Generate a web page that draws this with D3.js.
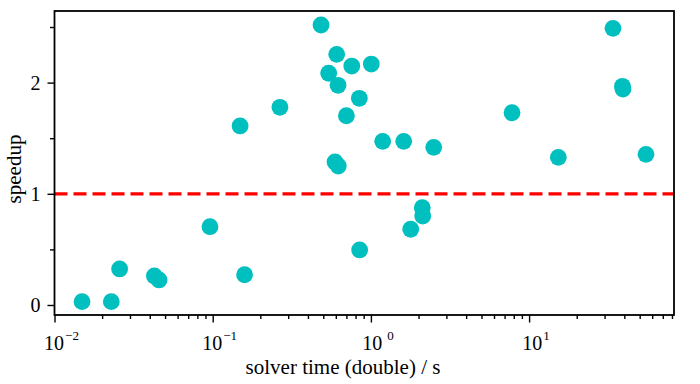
<!DOCTYPE html>
<html>
<head>
<meta charset="utf-8">
<script src="https://cdn.jsdelivr.net/npm/d3@7"></script>
<style>
body { margin: 0; background: #fff; }
text { font-family: "Liberation Serif", "Times New Roman", serif; fill: #000; }
</style>
</head>
<body>
<div class="board"></div>
<script>
// solver time (double precision) vs speedup, one dot per case
var solverTime = [0.01493, 0.02286, 0.0258, 0.0428, 0.0458, 0.0961, 0.159, 0.149,
                  0.266, 0.484, 0.608, 0.757, 1.006, 0.541, 0.620, 0.845, 0.700,
                  1.187, 1.612, 2.495, 0.593, 0.622, 2.113, 2.126, 1.785, 0.849,
                  7.80, 15.30, 33.9, 38.9, 39.2, 54.8];
var speedup = [0.030, 0.030, 0.324, 0.261, 0.225, 0.704, 0.272, 1.610,
               1.778, 2.518, 2.254, 2.149, 2.167, 2.084, 1.976, 1.859, 1.702,
               1.472, 1.472, 1.418, 1.286, 1.250, 0.875, 0.800, 0.681, 0.495,
               1.729, 1.328, 2.488, 1.967, 1.942, 1.355];

var xMajorTicks = [0.01, 0.1, 1, 10];
var xTickExponents = ["\u22122", "\u22121", "0", "1"];
var yMajorTicks = [0, 1, 2];
var yMinorTicks = [0.5, 1.5, 2.5];
var refSpeedup = 1;

var width = 700, height = 384;
var margin = {top: 11, right: 26, bottom: 69, left: 54.5};

var xMinorTicks = [];
[0.01, 0.1, 1, 10].forEach(function(d) {
  for (let k = 2; k <= 9; k++) {
    if (d * k <= 82.4) xMinorTicks.push(d * k);
  }
});

var x = d3.scaleLog().domain([0.01, 82.4]).range([margin.left, width - margin.right]);
var y = d3.scaleLinear().domain([-0.09, 2.644]).range([height - margin.bottom, margin.top]);

var svg = d3.select(".board").append("svg")
  .attr("width", width)
  .attr("height", height);

// points
var points = solverTime.map(function(t, i) { return {t: t, s: speedup[i]}; });
svg.append("g").selectAll("circle")
  .data(points)
  .enter().append("circle")
  .attr("cx", d => x(d.t))
  .attr("cy", d => y(d.s))
  .attr("r", 8.4)
  .style("fill", "#00bfbf");

// speedup = 1 line
svg.append("line")
  .attr("x1", x.range()[0])
  .attr("x2", x.range()[1])
  .attr("y1", y(refSpeedup))
  .attr("y2", y(refSpeedup))
  .attr("stroke", "#ff0000")
  .attr("stroke-width", 3.2)
  .attr("stroke-dasharray", "13,6");

// x axis
var xAxisMinor = d3.axisBottom(x).tickValues(xMinorTicks).tickSize(4).tickSizeOuter(0).tickFormat("");
var xAxisMajor = d3.axisBottom(x).tickValues(xMajorTicks).tickSize(7.5).tickSizeOuter(0).tickFormat("");
[xAxisMinor, xAxisMajor].forEach(function(ax) {
  var g = svg.append("g")
    .attr("transform", "translate(0," + (height - margin.bottom) + ")")
    .call(ax);
  g.select(".domain").remove();
  g.selectAll("line").attr("stroke-width", 1.4);
});

var xLabels = svg.append("g");
xMajorTicks.forEach(function(v, i) {
  var t = xLabels.append("text")
    .attr("x", x(v) + 7)
    .attr("y", 350)
    .attr("text-anchor", "middle")
    .style("font-size", "20px");
  t.append("tspan").text("10");
  t.append("tspan")
    .attr("dy", -10)
    .attr("dx", xTickExponents[i] == "0" ? 5 : 1)
    .style("font-size", "13px")
    .text(xTickExponents[i]);
});

// y axis
var yAxisMinor = d3.axisLeft(y).tickValues(yMinorTicks).tickSize(4.5).tickSizeOuter(0).tickFormat("");
var yAxisMajor = d3.axisLeft(y).tickValues(yMajorTicks).tickSize(7).tickSizeOuter(0).tickPadding(7).tickFormat(d3.format("d"));
[yAxisMinor, yAxisMajor].forEach(function(ax) {
  var g = svg.append("g")
    .attr("transform", "translate(" + margin.left + ",0)")
    .call(ax);
  g.select(".domain").remove();
  g.selectAll("line").attr("stroke-width", 1.4);
  g.selectAll("text")
    .attr("font-family", null)
    .style("font-size", "20px");
});
svg.selectAll("g").attr("font-family", null).attr("font-size", null);

// frame
svg.append("rect")
  .attr("x", margin.left)
  .attr("y", margin.top)
  .attr("width", width - margin.left - margin.right)
  .attr("height", height - margin.top - margin.bottom)
  .attr("fill", "none")
  .attr("stroke", "#000")
  .attr("stroke-width", 1.8);

// axis titles
svg.append("text")
  .attr("x", 343)
  .attr("y", 374)
  .attr("text-anchor", "middle")
  .style("font-size", "21px")
  .text("solver time (double) / s");

svg.append("text")
  .attr("transform", "translate(21,169) rotate(-90)")
  .attr("text-anchor", "middle")
  .style("font-size", "21px")
  .text("speedup");
</script>
</body>
</html>
